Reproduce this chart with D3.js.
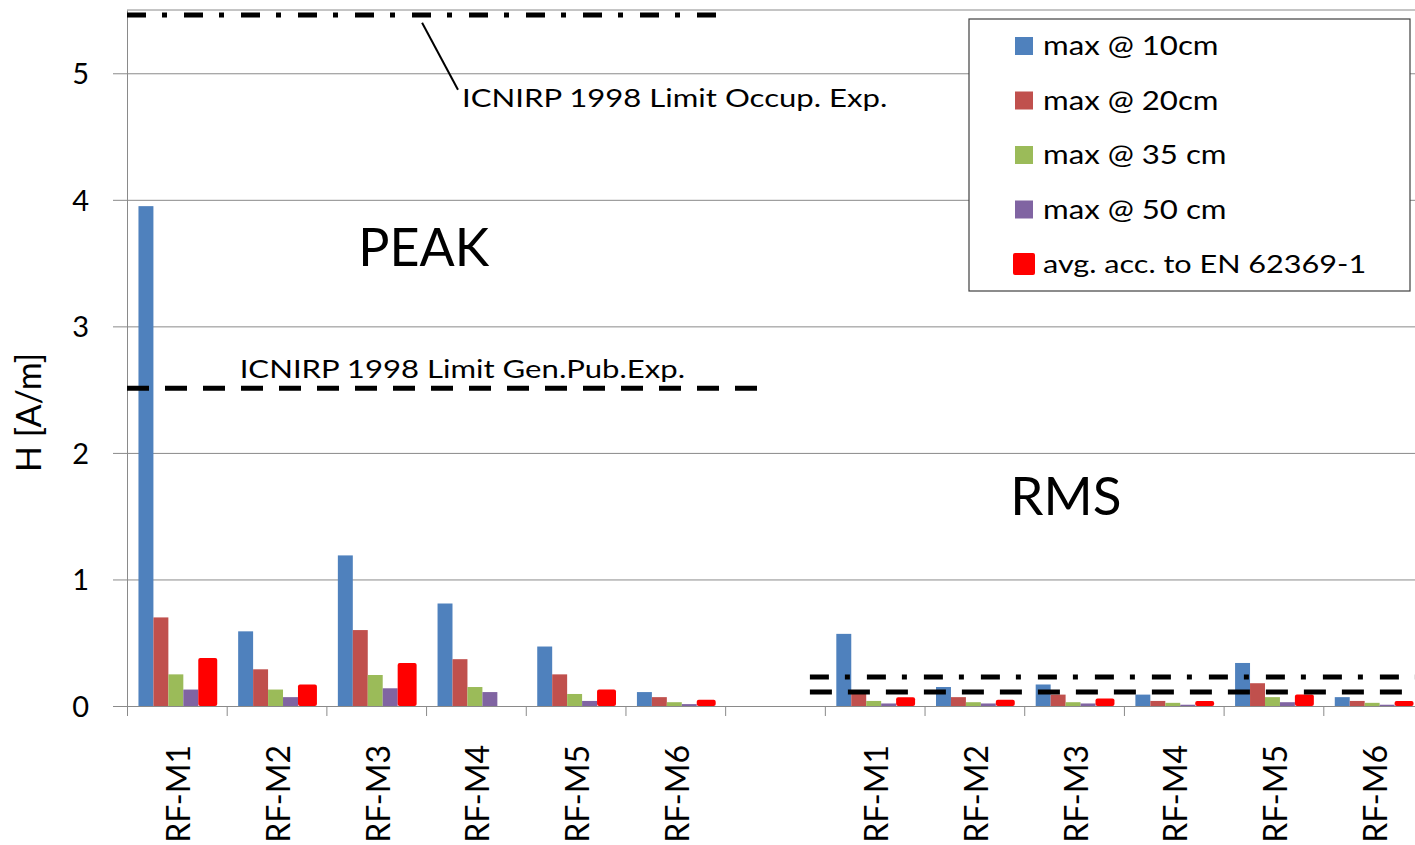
<!DOCTYPE html>
<html>
<head>
	<meta charset="utf-8">
	<title>H field PEAK / RMS</title>
	<script src="https://d3js.org/d3.v7.min.js"></script>
	<style>
	body { margin:0; background:#fff; }
	svg text { font-family: Lato, "Open Sans", sans-serif; fill:#000; }
	</style>
</head>
<body>
<svg width="1415" height="845" id="chart"></svg>
<script type="text/javascript">

// categories
const peakLabels = ['RF-M1','RF-M2','RF-M3','RF-M4','RF-M5','RF-M6'];
const rmsLabels = ['RF-M1','RF-M2','RF-M3','RF-M4','RF-M5','RF-M6'];

// series
const seriesNames = ['max @ 10cm','max @ 20cm','max @ 35 cm','max @ 50 cm','avg. acc. to EN 62369-1'];
const seriesColors = ['#4F81BD','#C0504D','#9BBB59','#8064A2','#FF0000'];

// PEAK values H [A/m]
const peak10 = [3.95, 0.59, 1.19, 0.81, 0.47, 0.11];
const peak20 = [0.70, 0.29, 0.60, 0.37, 0.25, 0.07];
const peak35 = [0.25, 0.13, 0.245, 0.15, 0.095, 0.03];
const peak50 = [0.13, 0.07, 0.14, 0.11, 0.04, 0.015];
const peakAvg = [0.38, 0.17, 0.34, 0, 0.13, 0.05];

// RMS values H [A/m]
const rms10 = [0.57, 0.15, 0.17, 0.09, 0.34, 0.07];
const rms20 = [0.095, 0.07, 0.09, 0.04, 0.18, 0.04];
const rms35 = [0.04, 0.03, 0.03, 0.025, 0.07, 0.025];
const rms50 = [0.02, 0.02, 0.02, 0.01, 0.03, 0.01];
const rmsAvg = [0.07, 0.05, 0.06, 0.04, 0.09, 0.04];

const yTicks = [0, 1, 2, 3, 4, 5];

// ICNIRP 1998 limits, extent given in category slots
const limitValues = [5.46, 2.51, 0.23, 0.11];
const limitFrom = [0, 0, 6.85, 6.85];
const limitTo = [6, 6.32, 13, 13];
const limitKind = ['occup', 'genpub', 'occup', 'genpub'];

const svg = d3.select('#chart');
const margin = {top:10, left:127, bottom:139};
const plotRight = 1423;   // plot area runs a little past the picture edge
const plotBottom = 845 - margin.bottom;

// slots: 6 peak, one empty, 6 rms
const slots = peakLabels.map(d => 'PEAK|' + d).concat(['gap'], rmsLabels.map(d => 'RMS|' + d));
const peakSeries = [peak10, peak20, peak35, peak50, peakAvg];
const rmsSeries = [rms10, rms20, rms35, rms50, rmsAvg];
const rows = [];
peakLabels.forEach((d, i) => rows.push({slot: 'PEAK|' + d, values: peakSeries.map(s => s[i])}));
rmsLabels.forEach((d, i) => rows.push({slot: 'RMS|' + d, values: rmsSeries.map(s => s[i])}));

const xscale = d3.scaleBand().domain(slots).range([margin.left, plotRight]);
const xi = d3.scaleLinear().domain([0, slots.length]).range([margin.left, plotRight]);
const yscale = d3.scaleLinear().domain([0, 5.5]).range([plotBottom, margin.top]);
const step = xscale.bandwidth();
const x1 = d3.scaleBand().domain(d3.range(seriesNames.length)).range([step * 0.115, step * 0.865]);

// gridlines
svg.append('g')
	.attr('transform', `translate(${margin.left},0)`)
	.call(d3.axisLeft(yscale).tickValues(yTicks.slice(1)).tickSize(-(plotRight - margin.left)).tickFormat(''))
	.call(g => g.select('.domain').remove())
	.selectAll('line').attr('stroke', '#8a8a8a');

// top border of plot area
svg.append('line')
	.attr('x1', margin.left).attr('x2', plotRight)
	.attr('y1', yscale(5.5)).attr('y2', yscale(5.5))
	.attr('stroke', '#8a8a8a');

// y axis
const yaxis = svg.append('g')
	.attr('transform', `translate(${margin.left},0)`)
	.call(d3.axisLeft(yscale).tickValues(yTicks).tickFormat(d3.format('d')).tickSize(14).tickPadding(24).tickSizeOuter(0));
yaxis.selectAll('line,.domain').attr('stroke', '#8a8a8a');
yaxis.selectAll('text').style('font-size', '29px').attr('dy', '0.36em');

// bars
const groups = svg.append('g').selectAll('g')
	.data(rows)
	.enter()
	.append('g')
	.attr('transform', d => `translate(${xscale(d.slot)},0)`);

groups.selectAll('rect')
	.data(d => d.values.map((v, k) => ({v: v, k: k})))
	.enter()
	.append('rect')
	.attr('x', d => x1(d.k))
	.attr('y', d => yscale(d.v))
	.attr('width', d => d.k === 4 ? x1.bandwidth() + 4 : x1.bandwidth())
	.attr('height', d => plotBottom - yscale(d.v))
	.attr('rx', d => d.k === 4 ? 2 : 0)
	.attr('fill', d => seriesColors[d.k]);

// x axis: boundary ticks + rotated labels
const xaxisTicks = svg.append('g')
	.attr('transform', `translate(0,${plotBottom})`)
	.call(d3.axisBottom(xi).tickValues(d3.range(slots.length + 1)).tickSize(10).tickFormat('').tickSizeOuter(0));
xaxisTicks.selectAll('line,.domain').attr('stroke', '#8a8a8a');

const xaxisLabels = svg.append('g')
	.attr('transform', `translate(0,${plotBottom})`)
	.call(d3.axisBottom(xscale).tickSize(0).tickFormat(d => d.split('|')[1] || ''));
xaxisLabels.select('.domain').remove();
xaxisLabels.selectAll('text')
	.attr('transform', 'translate(2,0) rotate(-90)')
	.attr('text-anchor', 'end')
	.attr('x', -39)
	.attr('y', 0)
	.attr('dy', '0.36em')
	.style('font-size', '32px');

// limit lines
svg.append('g').selectAll('line')
	.data(limitValues)
	.enter()
	.append('line')
	.attr('x1', (d, i) => xi(limitFrom[i]))
	.attr('x2', (d, i) => xi(limitTo[i]))
	.attr('y1', d => yscale(d))
	.attr('y2', d => yscale(d))
	.attr('stroke', '#000')
	.attr('stroke-width', 5)
	.attr('stroke-dasharray', (d, i) => limitKind[i] === 'occup' ? '19,16,5,17' : '22,16');

// limit annotations (picture is a bit wider than the font, hence scale)
svg.append('line')
	.attr('x1', xi(2.96)).attr('y1', yscale(5.40))
	.attr('x2', xi(3.32)).attr('y2', yscale(4.87))
	.attr('stroke', '#000').attr('stroke-width', 2);
svg.append('text').text('ICNIRP 1998 Limit Occup. Exp.')
	.attr('transform', `translate(${xi(3.36)},${yscale(4.73)}) scale(1.22,1)`)
	.style('font-size', '25.5px');
svg.append('text').text('ICNIRP 1998 Limit Gen.Pub.Exp.')
	.attr('transform', `translate(${xi(1.13)},${yscale(2.59)}) scale(1.22,1)`)
	.style('font-size', '25.5px');

svg.append('text').text('PEAK')
	.attr('x', xi(2.32)).attr('y', yscale(3.48)).style('font-size', '52px');
svg.append('text').text('RMS')
	.attr('x', xi(8.86)).attr('y', yscale(1.51)).style('font-size', '53px');

// y axis title
svg.append('text').text('H [A/m]')
	.attr('transform', `translate(41,${yscale(2.32)}) rotate(-90)`)
	.attr('text-anchor', 'middle')
	.style('font-size', '34px');

// legend
const legend = svg.append('g').attr('transform', 'translate(969,19)');
legend.append('rect')
	.attr('width', 441).attr('height', 272)
	.attr('fill', '#fff').attr('stroke', '#404040').attr('stroke-width', 1.2);
const items = legend.selectAll('g.item')
	.data(seriesNames)
	.enter()
	.append('g')
	.attr('class', 'item')
	.attr('transform', (d, i) => `translate(0,${27 + i * 54.5})`);
items.append('rect')
	.attr('x', (d, i) => i === 4 ? 44 : 46)
	.attr('y', (d, i) => i === 4 ? -11 : -9)
	.attr('width', (d, i) => i === 4 ? 22 : 18)
	.attr('height', (d, i) => i === 4 ? 22 : 18)
	.attr('rx', (d, i) => i === 4 ? 2 : 0)
	.attr('fill', (d, i) => seriesColors[i]);
items.append('text')
	.text(d => d)
	.attr('transform', 'translate(74,0) scale(1.2,1)')
	.attr('dy', '0.36em')
	.style('font-size', (d, i) => i === 4 ? '25.5px' : '26px');

</script>
</body>
</html>
